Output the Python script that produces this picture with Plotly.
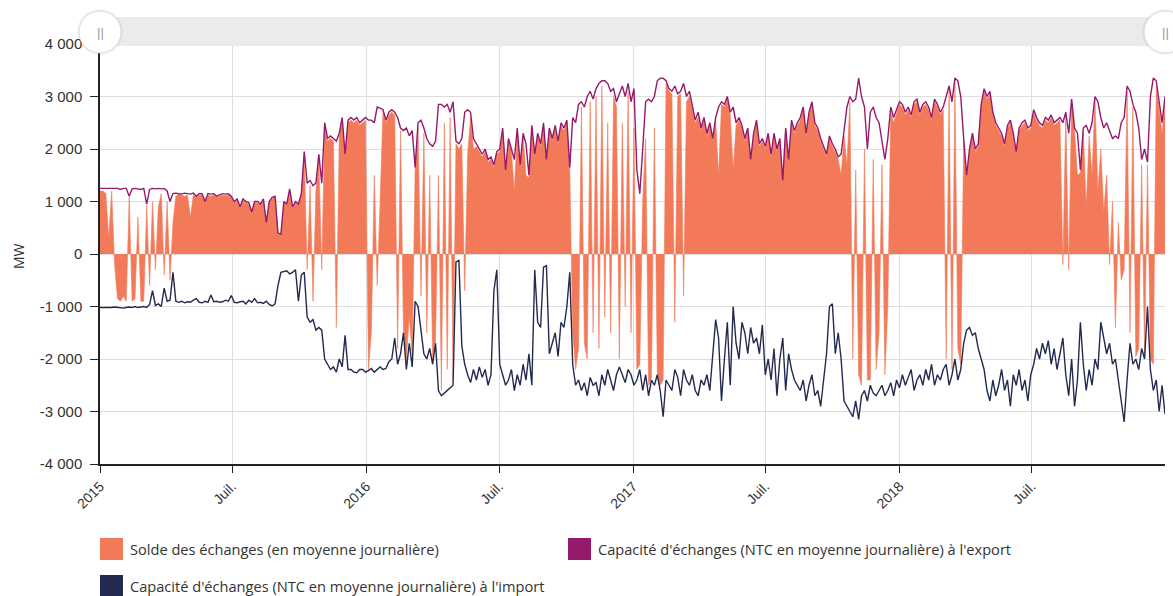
import pandas as pd
import plotly.graph_objects as go

# ---------------- data (MW, one reading every 4 days, 2015-01-01 .. 2018-12-31) ----------------
dates = pd.date_range("2015-01-01", periods=366, freq="4D")

export_ntc = [
    1250, 1250, 1240, 1250, 1240, 1250, 1250, 1230, 1250, 1250,
    1100, 1240, 1250, 1240, 1230, 1250, 950, 1230, 1250, 1240,
    1250, 1240, 1250, 1200, 1000, 1150, 1160, 1150, 1140, 1160,
    1150, 1140, 1160, 1100, 1150, 1150, 1000, 1150, 1140, 1150,
    1100, 1120, 1150, 1140, 1150, 1100, 1000, 1050, 900, 1050,
    1000, 980, 800, 1000, 1000, 950, 1050, 600, 1000, 1080,
    1100, 400, 380, 1000, 950, 1240, 900, 1000, 950, 1150,
    1950, 1350, 1400, 1300, 1350, 1900, 1350, 2500, 2200, 2250,
    2200, 2150, 2300, 2600, 1900, 2550, 2600, 2550, 2600, 2500,
    2550, 2600, 2550, 2550, 2500, 2800, 2780, 2750, 2550, 2700,
    2750, 2700, 2600, 2400, 2350, 2400, 2250, 2350, 1650, 2500,
    2550, 2400, 2200, 2100, 2050, 2150, 2850, 2850, 2800, 2850,
    2700, 2900, 2150, 2100, 2200, 2700, 2750, 2700, 2200, 2100,
    2000, 1900, 2000, 1800, 1850, 1700, 1950, 2000, 2400, 1600,
    2200, 2000, 1800, 2400, 1700, 2300, 2100, 1500, 2450, 1900,
    2300, 2100, 2500, 1800, 2400, 2200, 2450, 2150, 2500, 2400,
    2550, 1650, 2600, 2500, 2850, 2900, 2800, 3000, 3100, 2950,
    3150, 3250, 3300, 3300, 3250, 3100, 3150, 2900, 3050, 3200,
    3000, 3250, 2900, 3150, 1600, 1150, 2000, 2900, 2950, 2900,
    3000, 3300, 3350, 3350, 3300, 3150, 3100, 3200, 3050, 3100,
    3250, 3000, 3100, 2800, 2550, 2700, 2400, 2600, 2300, 2500,
    2200, 2600, 2800, 2900, 2850, 3000, 2700, 2800, 2500, 2600,
    2450, 2200, 2400, 1800, 2300, 2550, 2100, 2200, 2050, 2300,
    1900, 2300, 2000, 2200, 1400, 2400, 1800, 2550, 2350, 2500,
    2600, 2800, 2300, 2700, 2900, 2500, 2400, 2200, 2050, 1900,
    2250, 2100, 2000, 1850, 1900, 2300, 2800, 3000, 2900, 2950,
    3350, 3000, 2800, 2000, 2700, 2800, 2600, 2500, 2100, 1800,
    2200, 2800, 2600, 2750, 2900, 2850, 2700, 2800, 2650, 2900,
    2950, 2700, 2850, 2900, 2800, 2600, 2950, 2850, 2700, 2800,
    3000, 3200, 2900, 3350, 3300, 3000, 2200, 1500, 2000, 2300,
    2000, 2100, 2850, 3150, 3000, 3100, 2700, 2500, 2400, 2300,
    2100, 2450, 2550, 2300, 1950, 2400, 2500, 2550, 2400, 2450,
    2750, 2600, 2500, 2450, 2600, 2550, 2650, 2500, 2550, 2600,
    2500, 2700, 2300, 2950, 2400, 2300, 1600, 2400, 2450, 2300,
    2500, 3000, 2900, 2600, 2400, 2500, 2350, 2200, 2250, 2200,
    2500, 2600, 3200, 3100, 2850, 2700, 2400, 1800, 2000, 1750,
    3000, 3350, 3300, 2900, 2500, 3000,
]

import_ntc = [
    -1020, -1020, -1030, -1020, -1020, -1010, -1020, -1020, -1030, -1020,
    -1010, -1020, -1000, -1020, -1010, -1000, -1020, -960, -700, -980,
    -950, -1000, -650, -900, -880, -350, -900, -920, -900, -930,
    -910, -920, -880, -850, -920, -930, -900, -920, -780, -910,
    -900, -920, -910, -880, -900, -790, -920, -930, -910, -900,
    -950, -880, -920, -850, -930, -920, -940, -900, -960, -990,
    -950, -600, -350, -330, -320, -380, -350, -300, -900, -400,
    -350, -1200, -1300, -1250, -1450, -1400, -1450, -2000, -2100, -2200,
    -2150, -2250, -2000, -2150, -1550, -2200, -2200, -2250, -2260, -2200,
    -2200, -2250, -2220, -2180, -2250, -2200, -2150, -2200, -2180, -2050,
    -2000, -1600, -2100, -1900, -1500, -2200, -1700, -2150, -900, -1000,
    -1500, -1900, -2000, -1800, -2100, -1700, -2600, -2700, -2650, -2600,
    -2550, -2500, -150, -120, -1750, -2100, -2300, -2450, -2200, -2400,
    -2150, -2350, -2200, -2500, -2300, -700, -300, -2100, -2300, -2500,
    -2400, -2200, -2600, -2300, -2500, -2100, -2400, -1900, -2500, -300,
    -1300, -1400, -250, -220, -1900, -1700, -1500, -1950, -1300, -1400,
    -1000, -350, -2100, -2500, -2400, -2600, -2450, -2700, -2350, -2500,
    -2450, -2700, -2300, -2500, -2200, -2400, -2600, -2300, -2150, -2300,
    -2450, -2200, -2300, -2500, -2400, -2200, -2600, -2300, -2700, -2400,
    -2500, -2300, -2600, -3100, -2400, -2500, -2600, -2200, -2350, -2700,
    -2200, -2400, -2500, -2300, -2600, -2700, -2400, -2500, -2300, -2600,
    -1900, -1250, -1600, -2800, -2000, -1300, -2500, -1000, -1700, -2000,
    -1300, -1500, -1900, -1400, -1700, -1600, -1900, -1350, -2300, -2000,
    -2400, -1800, -2700, -2000, -1600, -2600, -1900, -2200, -2400, -2500,
    -2600, -2400, -2800, -2500, -2300, -2700, -2600, -2900, -2400, -1900,
    -1000, -950, -1900, -1500, -2000, -2800, -2900, -3000, -3100, -2800,
    -3150, -2700, -2600, -2800, -2500, -2650, -2700, -2600, -2500, -2700,
    -2600, -2450, -2700, -2400, -2550, -2300, -2500, -2350, -2200, -2600,
    -2400, -2300, -2500, -2200, -2400, -2100, -2500, -2300, -2400, -2200,
    -2100, -2500, -2300, -2000, -2400, -2200, -1700, -1450, -1400, -1550,
    -1500, -1800, -2000, -2200, -2600, -2800, -2400, -2700, -2500, -2200,
    -2600, -2400, -2900, -2300, -2500, -2200, -2600, -2400, -2800, -2300,
    -2100, -1800, -2000, -1700, -1900, -1650, -2100, -1800, -2200, -1900,
    -1600, -2300, -2700, -2000, -2900, -2400, -1300, -2100, -2600, -2200,
    -2500, -2000, -2200, -1300, -1600, -1900, -1700, -2100, -2000, -2400,
    -2700, -3200, -2400, -1700, -2100, -2000, -2200, -1800, -2000, -1000,
    -2200, -2600, -2400, -3000, -2500, -3050,
]

solde = [
    1200, 1200, 1150, 300, 1200, -200, -850, -900, -800, -900,
    1080, -900, -850, 700, -900, -900, 930, -600, 1000, -300,
    900, 1150, -400, 1000, -500, 600, 1100, 1150, 1120, 1100,
    1120, 700, 1130, 1080, 1120, 1130, 980, 1120, 1100, 1130,
    1080, 1100, 1120, 1110, 1130, 1080, 980, 1020, 880, 1030,
    980, 950, 780, 980, 970, 930, 1020, 580, 980, 1050,
    1080, 390, 370, 980, 930, 1200, 880, 980, 930, 1130,
    1900, -300, 1300, -900, 1200, 1800, -300, 2400, 2150, 2200,
    2150, -1400, 2250, 2550, 1850, 2500, 2550, 2500, 2550, 2450,
    2500, 2550, -2200, -1500, 1500, -600, 1000, 2750, 2500, 2650,
    2700, 2650, -1800, 2350, -1450, -2000, -1200, -1900, 1600, 2400,
    -800, 2300, -1500, 1500, -2000, -1650, 1500, -2600, 2500, -2200,
    2600, -2400, 2100, 2000, 2100, -700, 1900, 2600, 2000, 2050,
    1950, 1850, 1950, 1750, 1800, 1650, 1900, 1950, 2350, 1550,
    2150, 1950, 1200, 2350, 1650, 2250, 1500, 1450, 2400, 1850,
    2250, 2050, 2450, 1750, 2350, 2150, 2400, 2100, 2450, 2350,
    2500, 1600, -1500, -2200, -1800, 2800, -1700, -2000, 2900, -1500,
    3000, -1800, 3200, -1200, 2500, -1500, 3000, 2800, -2000, 2500,
    -1000, 3100, -1500, 2400, -2200, -2100, 1000, 2200, -2500, -2350,
    2400, -2250, -2500, -2400, 3250, 3100, 3050, -1300, 3000, 3050,
    -800, 2900, 3000, 2750, 2500, 2600, 2350, 2550, 2250, 2450,
    2150, 2550, 1500, 2850, 2800, 2950, 2650, 1600, 2450, 2550,
    2400, 2150, 2350, 1750, 2250, 2500, 2050, 2150, 2000, 2250,
    1850, 2250, 1950, 2150, 1350, 2350, 1750, 2500, 2300, 2450,
    2550, 2750, 2250, 2650, 2850, 2450, 2350, 2150, 2000, 1850,
    2200, 2050, 1950, 1800, 1500, 2250, 1700, 2900, -2000, 1600,
    -2300, -2500, 2000, -2400, -2400, 1800, -2200, -1500, 1700, -2300,
    -1000, 2700, 2500, 2700, 2850, 2800, 2650, 2750, 2600, 2850,
    2900, 2650, 2800, 2850, 2750, 2550, 2900, 2800, 2650, 2750,
    -2000, 3100, -2200, 3300, -1800, -2100, 2150, 1450, 1950, 2250,
    1950, 2050, 2800, 3100, 2950, 3050, 2650, 2450, 2350, 2250,
    2050, 2400, 2500, 2250, 1900, 2350, 2450, 2500, 2350, 2400,
    2700, 2550, 2450, 2400, 2550, 2500, 2600, 2450, 2500, 2550,
    -200, 2650, -300, 2900, 2350, 1500, 1550, 2350, 900, 2250,
    1500, 2950, 1200, 2000, 800, 1500, -200, 1000, -1400, 600,
    -500, -300, 3100, -1500, 2800, -1950, -1800, 1700, -1900, 1700,
    -2000, -2100, 3200, 2800, 2300, 2900,
]

x_tick_vals = ["2015-01-01", "2015-07-01", "2016-01-01", "2016-07-01",
               "2017-01-01", "2017-07-01", "2018-01-01", "2018-07-01"]
x_tick_text = ["2015", "Juil.", "2016", "Juil.", "2017", "Juil.", "2018", "Juil."]
y_tick_vals = [-4000, -3000, -2000, -1000, 0, 1000, 2000, 3000, 4000]
y_tick_text = ["-4 000", "-3 000", "-2 000", "-1 000", "0", "1 000", "2 000", "3 000", "4 000"]

names = ["Solde des échanges (en moyenne journalière)",
         "Capacité d'échanges (NTC en moyenne journalière) à l'export",
         "Capacité d'échanges (NTC en moyenne journalière) à l'import"]

# ---------------- style ----------------
ORANGE = "#F37A59"
PURPLE = "#961A6C"
NAVY = "#232A4F"
AXFONT = "Liberation Sans"
LGFONT = "Open Sans"
TXT = "#333333"

W, H = 1173, 596
ML, MR, MT, MB = 100, 8, 44, 132
PW, PH = W - ML - MR, H - MT - MB


def px(xp):
    return (xp - ML) / PW


def py(yp):
    return (H - MB - yp) / PH


fig = go.Figure()
fig.add_trace(go.Scatter(x=dates, y=solde, mode="lines", name=names[0],
                         line=dict(color=ORANGE, width=0.6), fill="tozeroy",
                         fillcolor=ORANGE, showlegend=False))
fig.add_trace(go.Scatter(x=dates, y=export_ntc, mode="lines", name=names[1],
                         line=dict(color=PURPLE, width=1.4), showlegend=False))
fig.add_trace(go.Scatter(x=dates, y=import_ntc, mode="lines", name=names[2],
                         line=dict(color=NAVY, width=1.4), showlegend=False))

shapes = []
annotations = []

# navigator bar on top
shapes.append(dict(type="rect", xref="paper", yref="paper", x0=px(110), x1=px(1160),
                   y0=py(46), y1=py(17), fillcolor="#ebebeb", line=dict(width=0), layer="above"))
for cx in (100, 1165):
    shapes.append(dict(type="circle", xref="paper", yref="paper", xsizemode="pixel", ysizemode="pixel",
                       xanchor=px(cx), yanchor=py(32), x0=-23, x1=23, y0=-23, y1=23,
                       fillcolor="rgba(0,0,0,0.05)", line=dict(width=0), layer="above"))
    shapes.append(dict(type="circle", xref="paper", yref="paper", xsizemode="pixel", ysizemode="pixel",
                       xanchor=px(cx), yanchor=py(32), x0=-21, x1=21, y0=-21, y1=21,
                       fillcolor="white", line=dict(color="#dddddd", width=1), layer="above"))
    annotations.append(dict(x=px(cx), y=py(32), xref="paper", yref="paper", text="||",
                            showarrow=False, font=dict(family=AXFONT, size=13, color="#9a9a9a"),
                            xanchor="center", yanchor="middle"))

# legend (manual, square swatches)
legend_items = [(100, 549, ORANGE, names[0]), (568, 549, PURPLE, names[1]), (100, 586, NAVY, names[2])]
for lx, ly, col, txt in legend_items:
    shapes.append(dict(type="rect", xref="paper", yref="paper", xsizemode="pixel", ysizemode="pixel",
                       xanchor=px(lx), yanchor=py(ly), x0=0, x1=23, y0=-11, y1=11,
                       fillcolor=col, line=dict(width=0)))
    annotations.append(dict(x=px(lx + 28), y=py(ly), xref="paper", yref="paper", text=txt,
                            showarrow=False, xanchor="left", yanchor="middle",
                            font=dict(family=LGFONT, size=14.6, color=TXT)))

# y-axis title
annotations.append(dict(x=px(18), y=py(256), xref="paper", yref="paper", text="MW", textangle=-90,
                        showarrow=False, xanchor="center", yanchor="middle",
                        font=dict(family=LGFONT, size=14, color=TXT)))

fig.update_layout(
    width=W, height=H,
    margin=dict(l=ML, r=MR, t=MT, b=MB),
    paper_bgcolor="white", plot_bgcolor="white",
    font=dict(family=AXFONT, size=14, color=TXT),
    showlegend=False,
    shapes=shapes, annotations=annotations,
    xaxis=dict(range=[dates[0], dates[-1]], tickvals=x_tick_vals, ticktext=x_tick_text,
               tickangle=-45, showgrid=True, gridcolor="#dedede", gridwidth=1,
               showline=True, linecolor="#222222", linewidth=1.5, ticks="outside",
               ticklen=7, tickcolor="#222222", zeroline=False, automargin=False,
               tickfont=dict(family=AXFONT, size=14, color=TXT)),
    yaxis=dict(range=[-4000, 4000], tickvals=y_tick_vals, ticktext=y_tick_text,
               showgrid=True, gridcolor="#dedede", gridwidth=1,
               showline=True, linecolor="#222222", linewidth=1.5, ticks="outside",
               ticklen=8, tickcolor="#222222", zeroline=False, automargin=False,
               ticklabelstandoff=5,
               tickfont=dict(family=AXFONT, size=15, color=TXT)),
)

fig.write_html("out.html", config={"displayModeBar": False},
               post_script="document.body.style.margin='0';document.body.style.overflow='hidden';")
